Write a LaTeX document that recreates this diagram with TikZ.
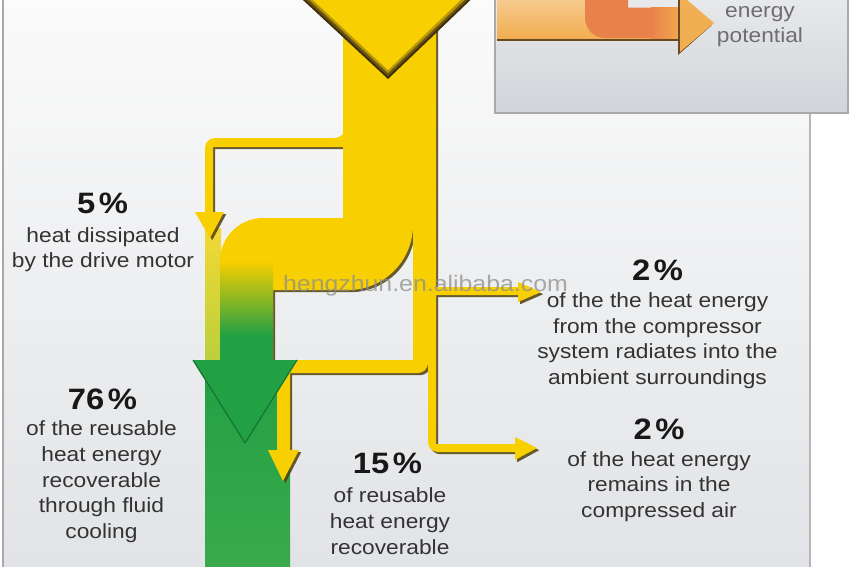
\documentclass[tikz,border=0pt]{standalone}
\usepackage{fontspec}
\setmainfont{Liberation Sans}[FakeStretch=1.11]
\definecolor{fy}{HTML}{F8CF00}
\definecolor{fsh}{HTML}{4F400E}
\definecolor{gr}{HTML}{21A044}
\definecolor{grb}{HTML}{3AAA4B}
\definecolor{grd}{HTML}{147432}
\definecolor{bgtop}{HTML}{FBFBFB}
\definecolor{bgbot}{HTML}{E1E3E6}
\definecolor{bord}{HTML}{A9A9A9}
\definecolor{instop}{HTML}{E8E9EB}
\definecolor{insbot}{HTML}{D1D4D9}
\definecolor{olt}{HTML}{F6CD95}
\definecolor{olb}{HTML}{F2AE52}
\definecolor{odk}{HTML}{E9824A}
\definecolor{osh}{HTML}{6A4A22}
\definecolor{txt}{HTML}{333333}
\definecolor{pcttxt}{HTML}{181818}
\definecolor{instxt}{HTML}{6E6E70}
\definecolor{hd1}{HTML}{3F300A}
\definecolor{hd2}{HTML}{6E5510}
\definecolor{hd3}{HTML}{B8960C}
\definecolor{strip}{HTML}{F4D835}
\definecolor{stripg}{HTML}{B9CF3C}
\definecolor{wmc}{HTML}{8E8E8E}
\begin{document}
\begin{tikzpicture}[x=1pt,y=-1pt,
  desc/.style={align=center, inner sep=0pt, anchor=north, text=txt, font=\fontsize{20.5}{25.6}\selectfont},
  pct/.style={inner sep=0pt, anchor=base, text=pcttxt, font=\fontsize{29.5}{32}\selectfont\bfseries},
  instext/.style={desc, text=instxt},
  wm/.style={inner sep=0pt, anchor=base, text=wmc, opacity=0.75, font=\fontsize{22.4}{24}\selectfont},
  flowshadow/.style={fill=fsh, opacity=0.85, shift={(2.2,2.2)}},
  flow/.style={fill=fy}]
\useasboundingbox (0,0) rectangle (850,566);
\clip (0,0) rectangle (850,566);
% background panel
\fill[white] (0,0) rectangle (850,566);
\shade[top color=bgtop, bottom color=bgbot] (2,-5) rectangle (810,570);
\draw[bord, line width=2pt] (2.5,-5) -- (2.5,570);
\draw[bord!85, line width=1.5pt] (810,110) -- (810,570);
% inset box
\shade[top color=instop, bottom color=insbot] (495,-5) rectangle (848,113);
\draw[bord, line width=1.3pt] (495,-5) rectangle (848,113);
\fill[osh] (497,38) rectangle (684,41);
\shade[top color=olt, bottom color=olb] (497,-5) rectangle (684,38);
\fill[instop] (628,-5) rectangle (684,7.5);
\fill[odk] (585,-5) -- (585,18) .. controls (585,29) and (594,38) .. (605,38) -- (652,38) -- (652,7.5) -- (628,7.5) -- (628,-5) -- cycle;
\shade[left color=odk, right color=olb] (651,7.5) rectangle (684,38);
\fill[osh] (678,-4) -- (712,25) -- (678,55) -- cycle;
\fill[olb] (680,-6) -- (714,23) -- (680,52) -- cycle;
\node[instext] (inset) at (760,1) {\rule{0pt}{16pt}energy\\potential};
% green column
\shade[top color=gr, bottom color=grb] (205,360) rectangle (290,570);
\shade[top color=strip, bottom color=stripg] (205,228) rectangle (221,365);
% yellow flows
\def\mainpath{(343,20) -- (343,218) -- (263,218) .. controls (239.3,218) and (220,237.3) .. (220,261) -- (220,362) -- (273,362) -- (273,290) -- (348,290) .. controls (383.9,290) and (413,260.9) .. (413,225) -- (413,360) -- (287,360) .. controls (281.5,360) and (277,364.5) .. (277,370) -- (277,450) -- (268,450) -- (283,481) -- (299,450) -- (290,450) -- (290,373) -- (418,373) .. controls (423.5,373) and (428,368.5) .. (428,363) -- (428,442) .. controls (428,447.5) and (432.5,452) .. (438,452) -- (515,452) -- (515,460) -- (537,448) -- (515,437) -- (515,444) -- (436,444) -- (436,295) -- (518,295) -- (518,302) -- (541,292) -- (518,282) -- (518,287) -- (436,287) -- (436,20) -- cycle}
\def\fivepath{(346,126) .. controls (346,133) and (341,138) .. (334,138) -- (215,138) .. controls (209.5,138) and (205,142.5) .. (205,148) -- (205,212) -- (195,212) -- (210,238) -- (224,212) -- (213,212) -- (213,147) -- (346,147) -- cycle}
\fill[flowshadow] \mainpath;
\fill[flowshadow] \fivepath;
\fill[flow] \mainpath;
\fill[flow] \fivepath;
% yellow to green gradient
\shade[top color=fy, bottom color=gr] (220,261) rectangle (273,336);
\fill[gr] (220,335) rectangle (273,363);
% green head
\fill[gr] (193,360) -- (297,360) -- (245,443) -- cycle;
\draw[grd, line width=1.2pt, line join=round] (193,360) -- (245,443) -- (297,360);
% top head
\fill[hd1] (290,-12) -- (483,-12) -- (388,79) -- cycle;
\fill[hd2] (293,-12) -- (480,-12) -- (388,76) -- cycle;
\fill[hd3] (296.5,-12) -- (477,-12) -- (388,73) -- cycle;
\fill[fy] (300,-12) -- (473,-12) -- (388,70) -- cycle;
% watermark
\node[wm] (wm) at (425.5,291) {hengzhun.en.alibaba.com};
% texts
\node[pct] (p5) at (102.5,213.5) {5\hspace{0.12em}\%};
\node[desc] (d5) at (103,226) {\rule{0pt}{16pt}heat dissipated\\by the drive motor};
\node[pct] (p76) at (102.5,409) {76\hspace{0.12em}\%};
\node[desc] (d76) at (101.5,419.7) {\rule{0pt}{16pt}of the reusable\\heat energy\\recoverable\\through fluid\\cooling};
\node[pct] (p15) at (387.5,473) {15\hspace{0.12em}\%};
\node[desc] (d15) at (390,486.7) {\rule{0pt}{16pt}of reusable\\heat energy\\recoverable};
\node[pct] (p2a) at (657.5,280) {2\hspace{0.12em}\%};
\node[desc] (d2a) at (657.5,291.3) {\rule{0pt}{16pt}of the the heat energy\\from the compressor\\system radiates into the\\ambient surroundings};
\node[pct] (p2b) at (659,439) {2\hspace{0.12em}\%};
\node[desc] (d2b) at (659,450) {\rule{0pt}{16pt}of the heat energy\\remains in the\\compressed air};
\end{tikzpicture}
\end{document}
